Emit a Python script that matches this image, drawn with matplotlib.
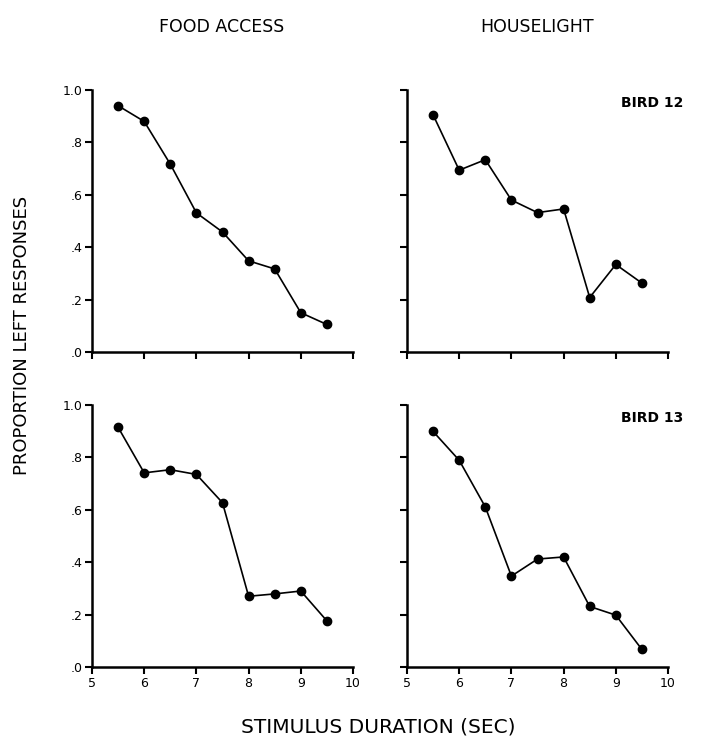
import matplotlib
matplotlib.use("Agg")
import matplotlib.pyplot as plt
from matplotlib.ticker import FixedLocator

plt.rcParams['font.family'] = ['DejaVu Sans']

durations = [5.5, 6.0, 6.5, 7.0, 7.5, 8.0, 8.5, 9.0, 9.5]
bird12_food = [0.94, 0.88, 0.717, 0.531, 0.458, 0.348, 0.317, 0.150, 0.105]
bird12_house = [0.905, 0.694, 0.734, 0.580, 0.532, 0.546, 0.208, 0.334, 0.263]
bird13_food = [0.915, 0.741, 0.753, 0.735, 0.627, 0.270, 0.279, 0.290, 0.176]
bird13_house = [0.899, 0.789, 0.611, 0.347, 0.412, 0.420, 0.231, 0.198, 0.067]

col_titles = ["FOOD ACCESS", "HOUSELIGHT"]
bird_labels = ["BIRD 12", "BIRD 13"]
x_ticks = [5, 6, 7, 8, 9, 10]
x_ticklabels = ["5", "6", "7", "8", "9", "10"]
y_ticks = [0.0, 0.2, 0.4, 0.6, 0.8, 1.0]
y_ticklabels = [".0", ".2", ".4", ".6", ".8", "1.0"]

W, H = 708, 751
fig = plt.figure(figsize=(W / 100, H / 100), dpi=100)

def frac_rect(x0, x1, ytop, ybot):
    return [x0 / W, 1 - ybot / H, (x1 - x0) / W, (ybot - ytop) / H]

rects = {
    (0, 0): frac_rect(92, 353, 90, 352),
    (0, 1): frac_rect(407, 668, 90, 352),
    (1, 0): frac_rect(92, 353, 405, 667),
    (1, 1): frac_rect(407, 668, 405, 667),
}
data = {
    (0, 0): bird12_food,
    (0, 1): bird12_house,
    (1, 0): bird13_food,
    (1, 1): bird13_house,
}

for (r, c), rect in rects.items():
    ax = fig.add_axes(rect)
    ax.plot(durations, data[(r, c)], color='black', linewidth=1.2,
            marker='o', markersize=6, markerfacecolor='black',
            markeredgecolor='black', clip_on=False)
    ax.set_xlim(5, 10)
    ax.set_ylim(0, 1)
    for s in ['top', 'right']:
        ax.spines[s].set_visible(False)
    for s in ['left', 'bottom']:
        ax.spines[s].set_linewidth(1.8)
    ax.xaxis.set_major_locator(FixedLocator(x_ticks))
    ax.yaxis.set_major_locator(FixedLocator(y_ticks))
    ax.tick_params(direction='out', length=5, width=1.5, labelsize=9,
                   pad=2)
    if r == 1:
        ax.set_xticklabels(x_ticklabels)
    else:
        ax.set_xticklabels([])
    if c == 0:
        ax.set_yticklabels(y_ticklabels)
    else:
        ax.set_yticklabels([])
    if c == 1:
        ax.text(1.06, 0.95, bird_labels[r], transform=ax.transAxes,
                ha='right', va='center', fontsize=10, fontweight='bold')

fig.text(222 / W, 1 - 27 / H, col_titles[0], ha='center', va='center', fontsize=12.5)
fig.text(537 / W, 1 - 27 / H, col_titles[1], ha='center', va='center', fontsize=12.5)
fig.text(378 / W, 1 - 727 / H, "STIMULUS DURATION (SEC)", ha='center', va='center', fontsize=14.5)
fig.text(22 / W, 1 - 335 / H, "PROPORTION LEFT RESPONSES", ha='center', va='center',
         rotation=90, fontsize=13)

fig.savefig("out.png", dpi=100)
